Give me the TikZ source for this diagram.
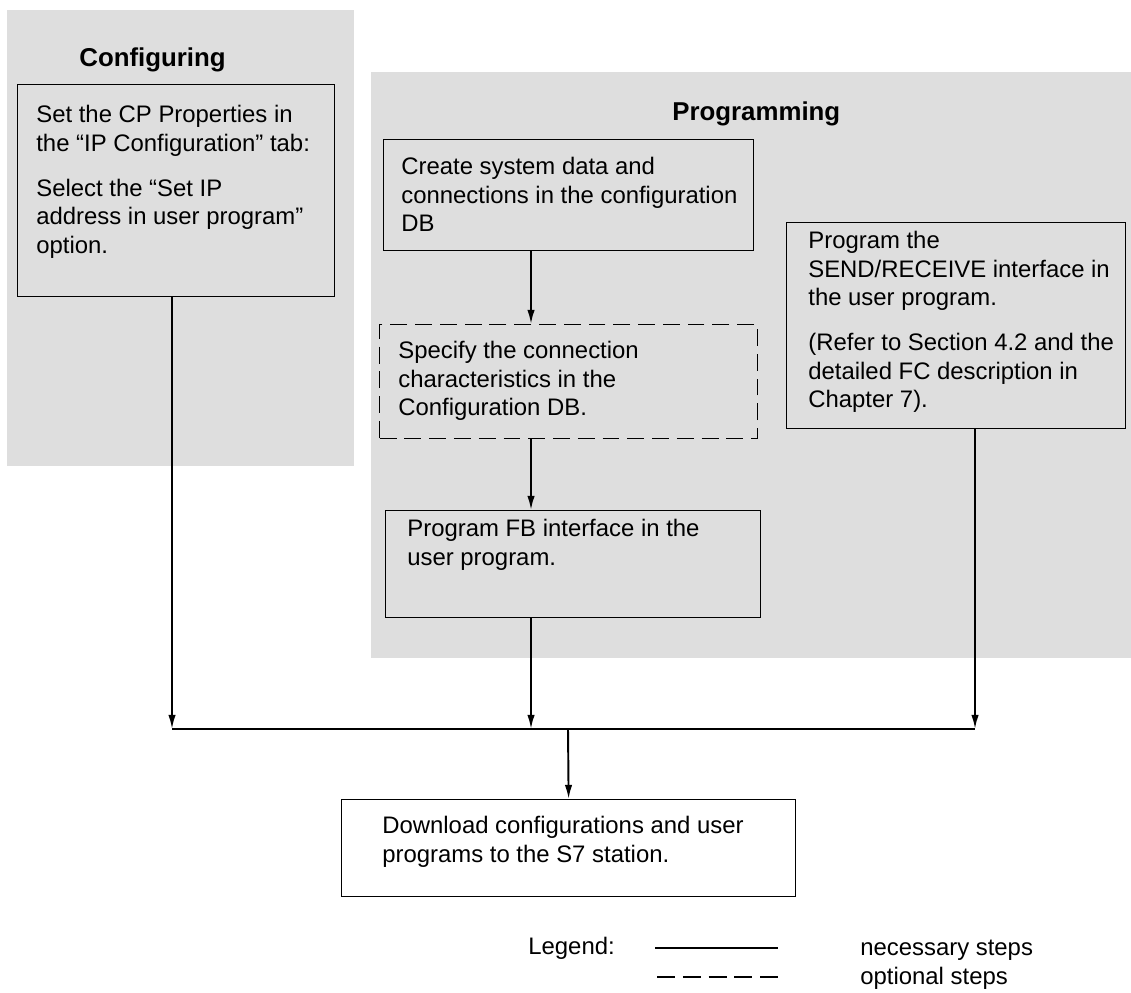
\documentclass[tikz,border=0pt]{standalone}
\usepackage{fontspec}
\setmainfont{Liberation Sans}
\usetikzlibrary{arrows.meta,calc}
\definecolor{panelgray}{RGB}{222,222,222}

\begin{document}
\begin{tikzpicture}[
    x=0.02cm, y=-0.02cm,
    panel/.style={fill=panelgray, draw=none},
    box/.style={draw=black, line width=0.75pt, anchor=north west, inner sep=0pt},
    optbox/.style={box, dash pattern=on 9.6pt off 4.5pt},
    txt/.style={anchor=north west, inner sep=0pt, align=left,
        font=\fontsize{13.6}{16.2}\selectfont},
    title/.style={anchor=base west, inner sep=0pt, font=\fontsize{14.7}{17}\selectfont\bfseries},
    arrow/.style={-{Latex[length=8pt,width=4.2pt]}, line width=1.1pt},
    bus/.style={line width=1.5pt}
]
\useasboundingbox (0,0) rectangle (1131,992);
% shaded areas
\fill[panel] (7,10) rectangle (354,466);
\fill[panel] (371,72) rectangle (1131,658);
\node[title] (conftitle) at (79,66) {Configuring};
\node[title] (progtitle) at (672,120) {Programming};
% boxes
\node[box, minimum width=6.34cm, minimum height=4.24cm] (cfg) at (17,84) {};
\node[txt] (cfgtext) at (36,105) {Set the CP Properties in\\the “IP Configuration” tab:\\[9.4pt]
    Select the “Set IP\\address in user program”\\option.};
\node[box, minimum width=7.40cm, minimum height=2.22cm] (create) at (383,139) {};
\node[txt] (createtext) at (401,157) {Create system data and\\connections in the configuration\\DB};
\node[optbox, minimum width=7.56cm, minimum height=2.28cm] (opt) at (379,324) {};
\node[txt] (opttext) at (398,341) {Specify the connection\\characteristics in the\\Configuration DB.};
\node[box, minimum width=7.50cm, minimum height=2.14cm] (fb) at (385,510) {};
\node[txt] (fbtext) at (407,519) {Program FB interface in the\\user program.};
\node[box, minimum width=6.78cm, minimum height=4.12cm] (send) at (786,222) {};
\node[txt] (sendtext) at (808,231) {Program the\\SEND/RECEIVE interface in\\the user program.\\[9.4pt]
    (Refer to Section 4.2 and the\\detailed FC description in\\Chapter 7).};
\node[box, fill=white, minimum width=9.08cm, minimum height=1.94cm] (dl) at (341,799) {};
\node[txt] (dltext) at (382,816) {Download configurations and user\\programs to the S7 station.};
% connectors
\coordinate (busL) at (172,729);
\coordinate (busR) at (975,729);
\coordinate (busM) at (568,729);
\coordinate (colA) at (531,0);
\draw[arrow] (create.south -| colA) -- (opt.north -| colA);
\draw[arrow] (opt.south -| colA) -- (fb.north -| colA);
\draw[arrow] (cfg.south -| busL) -- (busL);
\draw[arrow] (fb.south -| colA) -- (colA |- busL);
\draw[arrow] (send.south -| busR) -- (busR);
\draw[bus] (busL) -- (busR);
\draw[arrow] (busM) -- (dl.north);
% legend
\node[txt, anchor=base west] (legend) at (528,954) {Legend:};
\coordinate (solidA) at (655,948);
\coordinate (solidB) at (778,948);
\coordinate (dashA) at (657,977);
\coordinate (dashB) at (778,977);
\draw[line width=1.1pt] (solidA) -- (solidB);
\draw[line width=1.1pt, dash pattern=on 10.2pt off 4.5pt] (dashA) -- (dashB);
\node[txt] (legtext) at (860,940) {necessary steps\\optional steps};
\end{tikzpicture}
\end{document}
